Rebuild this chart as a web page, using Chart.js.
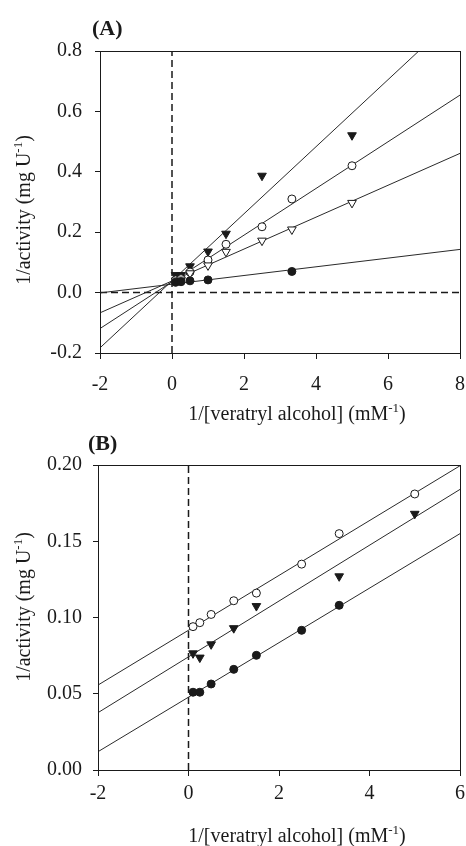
<!DOCTYPE html>
<html>
<head>
<meta charset="utf-8">
<script src="https://cdn.jsdelivr.net/npm/chart.js@4.4.0/dist/chart.umd.min.js"></script>
<style>
  html, body { margin: 0; padding: 0; background: #fff; }
  canvas { position: absolute; left: 0; }
  #chartA { top: 0; }
  #chartB { top: 430px; }
</style>
</head>
<body>
<canvas id="chartA" width="466" height="430"></canvas>
<canvas id="chartB" width="466" height="416"></canvas>
<script>
// 1/[veratryl alcohol] (mM-1)
const invConc = [0.1, 0.25, 0.5, 1, 1.5, 2.5, 3.33, 5];

// Panel A - 1/activity, null = no point
const aFilledTri  = [0.058, 0.058, 0.087, 0.136, 0.195, 0.387, null, 0.521];
const aOpenCircle = [0.042, 0.046, 0.068, 0.108, 0.160, 0.218, 0.310, 0.420];
const aOpenTri    = [0.040, 0.043, 0.064, 0.090, 0.135, 0.172, 0.209, 0.297];
const aFilledCirc = [0.034, 0.036, 0.039, 0.042, null, null, 0.070, null];

// Panel A fitted lines, y at x = -2 and x = 8
const aLineX = [-2, 8];
const aFitFilledTri  = [-0.183, 0.927];
const aFitOpenCircle = [-0.119, 0.654];
const aFitOpenTri    = [-0.067, 0.461];
const aFitFilledCirc = [-0.001, 0.143];

// Panel B
const bOpenCircle = [0.094, 0.0966, 0.102, 0.111, 0.116, 0.135, 0.155, 0.181];
const bFilledTri  = [0.0765, 0.0737, 0.0824, 0.093, 0.1075, null, 0.127, 0.168];
const bFilledCirc = [0.051, 0.051, 0.0564, 0.066, 0.0752, 0.0916, 0.108, null];

// Panel B fitted lines, y at x = -2 and x = 6
const bLineX = [-2, 6];
const bFitOpenCircle = [0.0557, 0.1995];
const bFitFilledTri  = [0.0376, 0.184];
const bFitFilledCirc = [0.012, 0.155];

const ink = '#1a1a1a';
const serif = '"Liberation Serif", "Times New Roman", serif';

function pts(xs, ys) {
  return xs.map((x, i) => ({ x: x, y: ys[i] })).filter(p => p.y !== null);
}

function markers(ys, kind) {
  const tri = kind.indexOf('tri') >= 0;
  const filled = kind.indexOf('filled') >= 0;
  return {
    data: pts(invConc, ys),
    showLine: false,
    pointStyle: tri ? 'triangle' : 'circle',
    rotation: tri ? 180 : 0,
    pointRadius: tri ? 5 : 4,
    pointBorderWidth: 1,
    pointBackgroundColor: filled ? ink : '#fff',
    pointBorderColor: ink,
    order: 0
  };
}

function fitLine(xs, ys) {
  return {
    data: pts(xs, ys),
    showLine: true,
    borderColor: '#2a2a2a',
    borderWidth: 1,
    pointRadius: 0,
    order: 1
  };
}

function dashLine(xs, ys) {
  return {
    data: pts(xs, ys),
    showLine: true,
    borderColor: ink,
    borderWidth: 1.5,
    borderDash: [7, 4],
    pointRadius: 0,
    order: 2
  };
}

function drawWithSup(ctx, pre, sup, post, cx, cy, rot) {
  const big = '20px ' + serif, small = '13px ' + serif;
  ctx.save();
  ctx.translate(cx, cy);
  ctx.rotate(rot);
  ctx.textAlign = 'left';
  ctx.textBaseline = 'alphabetic';
  ctx.font = big;
  const w1 = ctx.measureText(pre).width;
  const w3 = ctx.measureText(post).width;
  ctx.font = small;
  const w2 = ctx.measureText(sup).width;
  let x = -(w1 + w2 + w3) / 2;
  ctx.font = big; ctx.fillText(pre, x, 7); x += w1;
  ctx.font = small; ctx.fillText(sup, x, -1); x += w2;
  ctx.font = big; ctx.fillText(post, x, 7);
  ctx.restore();
}

// frame round the plot + panel tag + axis titles
const panelDecor = {
  id: 'panelDecor',
  afterDraw(chart, args, opts) {
    const { ctx, chartArea: a } = chart;
    ctx.save();
    ctx.strokeStyle = ink;
    ctx.lineWidth = 1;
    const l = Math.round(a.left) + 0.5, t = Math.round(a.top) + 0.5;
    const r = Math.round(a.right) + 0.5, b = Math.round(a.bottom) + 0.5;
    ctx.strokeRect(l, t, r - l, b - t);
    ctx.fillStyle = ink;
    ctx.font = 'bold 22px ' + serif;
    ctx.textAlign = 'left';
    ctx.textBaseline = 'middle';
    ctx.fillText(opts.tag, opts.tagX, opts.tagY);
    drawWithSup(ctx, '1/[veratryl alcohol] (mM', '-1', ')', opts.xTitleX, opts.xTitleY, 0);
    drawWithSup(ctx, '1/activity (mg U', '-1', ')', opts.yTitleX, opts.yTitleY, -Math.PI / 2);
    ctx.restore();
  }
};

function axis(min, max, step, fmt, size, tickLen, pad, vertical) {
  return {
    type: 'linear',
    min: min,
    max: max,
    afterFit: s => {
      if (vertical) s.width = size; else s.height = size;
      // let the plot run right up to the layout padding
      s.paddingLeft = 0; s.paddingRight = 0;
    },
    ticks: {
      stepSize: step,
      padding: pad,
      color: ink,
      font: { family: serif, size: 20 },
      callback: v => fmt(v),
      maxRotation: 0,
      autoSkip: false
    },
    grid: { drawOnChartArea: false, drawTicks: true, tickLength: tickLen, color: ink, lineWidth: 1 },
    border: { display: true, color: ink, width: 1 },
    title: { display: false }
  };
}

function makeChart(id, datasets, scales, padding, decor) {
  return new Chart(document.getElementById(id), {
    type: 'scatter',
    data: { datasets: datasets },
    options: {
      responsive: false,
      animation: false,
      layout: { padding: padding },
      plugins: { legend: { display: false }, tooltip: { enabled: false }, panelDecor: decor },
      scales: scales
    },
    plugins: [panelDecor]
  });
}

makeChart('chartA', [
  markers(aFilledCirc, 'filled circle'),
  markers(aOpenTri, 'open tri'),
  markers(aOpenCircle, 'open circle'),
  markers(aFilledTri, 'filled tri'),
  fitLine(aLineX, aFitFilledTri),
  fitLine(aLineX, aFitOpenCircle),
  fitLine(aLineX, aFitOpenTri),
  fitLine(aLineX, aFitFilledCirc),
  dashLine([0, 0], [-0.2, 0.8]),
  dashLine([-2, 8], [0, 0])
], {
  x: axis(-2, 8, 2, v => String(v), 77, 6, 14, false),
  y: axis(-0.2, 0.8, 0.2, v => v.toFixed(1), 100, 5, 13, true)
}, { left: 0, right: 5, top: 51, bottom: 0 },
{ tag: '(A)', tagX: 92, tagY: 29, xTitleX: 297, xTitleY: 413, yTitleX: 23, yTitleY: 210 });

makeChart('chartB', [
  markers(bFilledCirc, 'filled circle'),
  markers(bFilledTri, 'filled tri'),
  markers(bOpenCircle, 'open circle'),
  fitLine(bLineX, bFitOpenCircle),
  fitLine(bLineX, bFitFilledTri),
  fitLine(bLineX, bFitFilledCirc),
  dashLine([0, 0], [0, 0.2])
], {
  x: axis(-2, 6, 2, v => String(v), 76, 6, 6, false),
  y: axis(0, 0.2, 0.05, v => v.toFixed(2), 98, 5, 11, true)
}, { left: 0, right: 6, top: 35, bottom: 0 },
{ tag: '(B)', tagX: 88, tagY: 14, xTitleX: 297, xTitleY: 405, yTitleX: 23, yTitleY: 177 });
</script>
</body>
</html>
